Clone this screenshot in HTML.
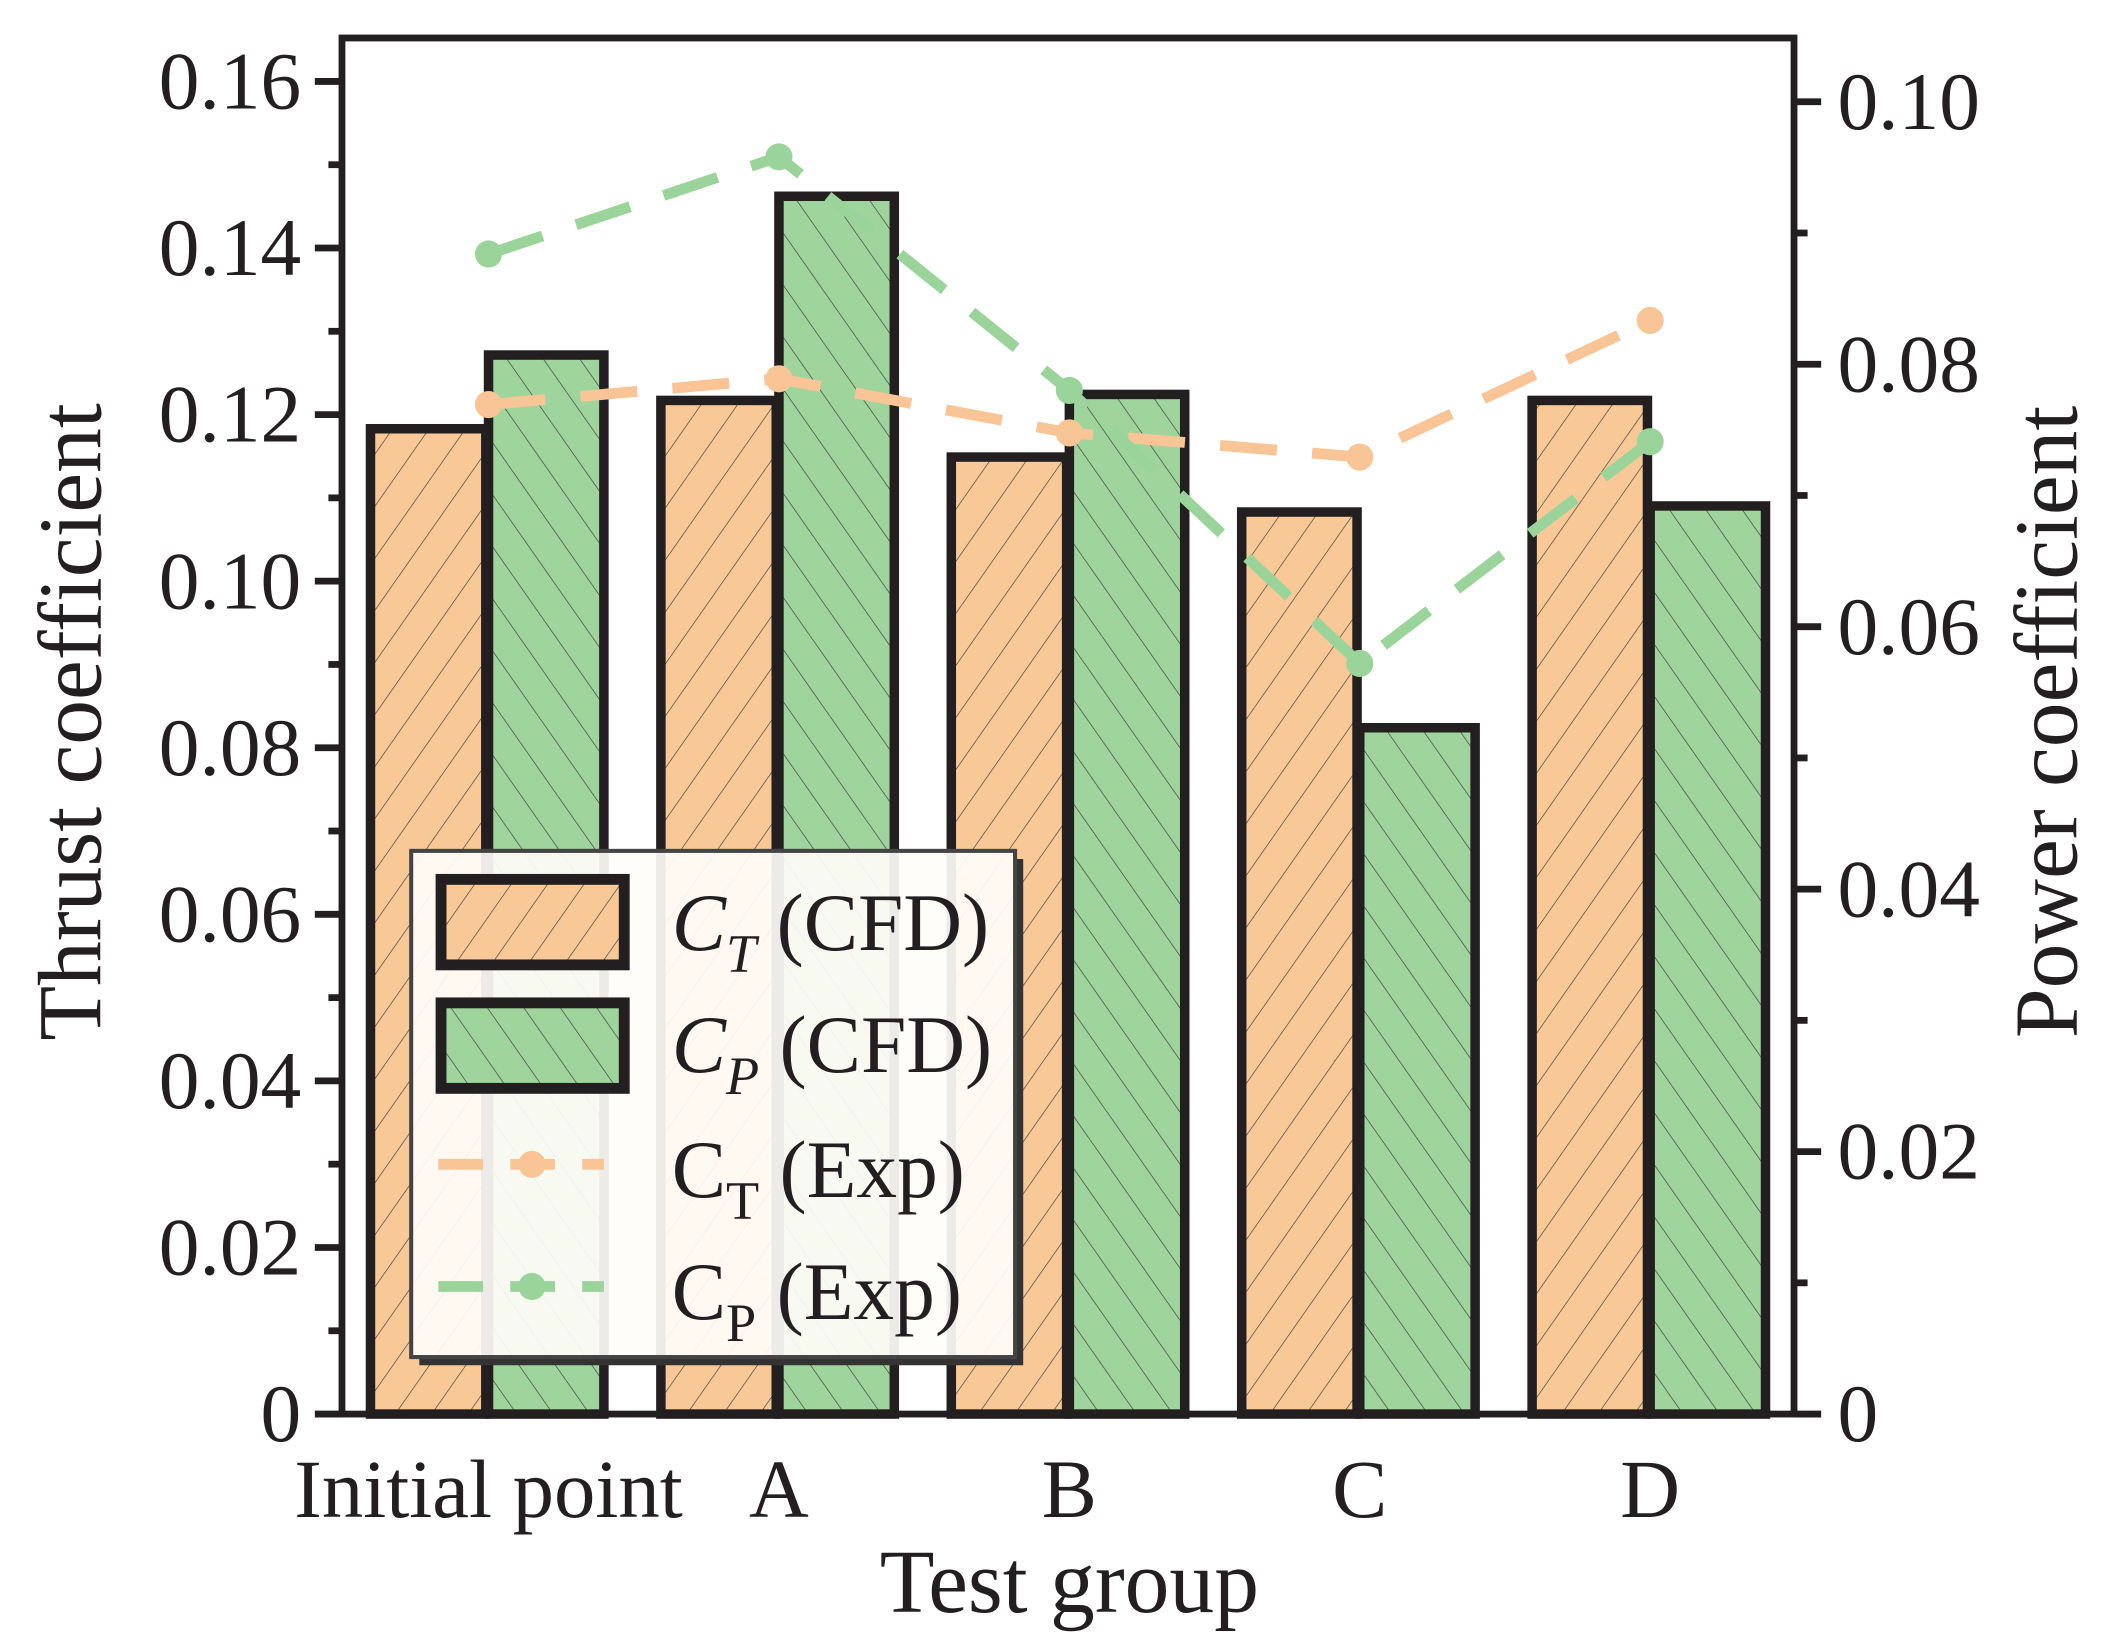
<!DOCTYPE html>
<html><head><meta charset="utf-8">
<style>html,body{margin:0;padding:0;background:#fff}svg{display:block}</style></head>
<body>
<svg id="chart" width="2117" height="1651" viewBox="0 0 1560 1216.6" preserveAspectRatio="none" xmlns="http://www.w3.org/2000/svg" font-family="'Liberation Serif', serif">
<defs>
<pattern id="hatchO" patternUnits="userSpaceOnUse" width="22" height="22" patternTransform="rotate(35)">
<rect width="22" height="22" fill="#f9c897"/><line x1="0" y1="0" x2="0" y2="22" stroke="#333" stroke-width="0.9"/></pattern>
<pattern id="hatchG" patternUnits="userSpaceOnUse" width="22" height="22" patternTransform="rotate(-35)">
<rect width="22" height="22" fill="#9fd49c"/><line x1="0" y1="0" x2="0" y2="22" stroke="#333" stroke-width="0.9"/></pattern>
</defs>
<g id="plot"></g>
</svg>
<script>
const categories = ["Initial point","A","B","C","D"];
const ctCfd = [0.1183,0.1217,0.1149,0.1083,0.1217];
const cpCfd = [0.0807,0.0928,0.0777,0.0523,0.0692];
const ctExp = [0.1212,0.1243,0.1178,0.1149,0.1313];
const cpExp = [0.0884,0.0958,0.0780,0.0572,0.0741];
const leftTicks = ["0","0.02","0.04","0.06","0.08","0.10","0.12","0.14","0.16"];
const rightTicks = ["0","0.02","0.04","0.06","0.08","0.10"];

const NS="http://www.w3.org/2000/svg";
const g=document.getElementById('plot');
const L=252,R=1322,T=28,B=1042;
function yL(v){return B-v/0.16*(B-60);}
function yR(v){return B-v/0.10*(B-75);}
function xC(i){return 360+i*214;}
function mk(tag,a,parent){const e=document.createElementNS(NS,tag);for(const k in a)e.setAttribute(k,a[k]);(parent||g).appendChild(e);return e;}

for(let i=0;i<categories.length;i++){
  const c=xC(i);
  const b1=mk('rect',{x:c-87,y:yL(ctCfd[i]),width:85,height:B-yL(ctCfd[i]),fill:'url(#hatchO)',stroke:'#231f20','stroke-width':7});
  
  
  const b2=mk('rect',{x:c,y:yR(cpCfd[i]),width:85,height:B-yR(cpCfd[i]),fill:'url(#hatchG)',stroke:'#231f20','stroke-width':7});
  
  
}
function series(vals,fy,color,name){
  const pts=vals.map((v,i)=>xC(i)+','+fy(v)).join(' ');
  const pl=mk('polyline',{points:pts,fill:'none',stroke:color,'stroke-width':8,'stroke-dasharray':'42 26'});
  
  
  vals.forEach((v,i)=>{
    const c=mk('circle',{cx:xC(i),cy:fy(v),r:10,fill:color});
    
    
  });
}
series(ctExp,yL,'#f9c597','ct-exp');
series(cpExp,yR,'#9bd49b','cp-exp');

const fr=mk('rect',{x:L,y:T,width:R-L,height:B-T,fill:'none',stroke:'#231f20','stroke-width':5});


leftTicks.forEach((t,i)=>{
  const v=i*0.02,y=yL(v);
  mk('line',{x1:L-20,x2:L,y1:y,y2:y,stroke:'#231f20','stroke-width':5});
  if(i<leftTicks.length-1){const ym=yL(v+0.01);mk('line',{x1:L-10,x2:L,y1:ym,y2:ym,stroke:'#231f20','stroke-width':5});}
  const tx=mk('text',{x:L-30,y:y+20,'text-anchor':'end','font-size':60,fill:'#231f20'});
  tx.textContent=t;
  
  
});
rightTicks.forEach((t,i)=>{
  const v=i*0.02,y=yR(v);
  mk('line',{x1:R,x2:R+20,y1:y,y2:y,stroke:'#231f20','stroke-width':5});
  if(i<rightTicks.length-1){const ym=yR(v+0.01);mk('line',{x1:R,x2:R+10,y1:ym,y2:ym,stroke:'#231f20','stroke-width':5});}
  const tx=mk('text',{x:R+32,y:y+20,'font-size':60,fill:'#231f20'});
  tx.textContent=t;
  
  
});
categories.forEach((c,i)=>{
  const tx=mk('text',{x:xC(i),y:1118,'text-anchor':'middle','font-size':61,fill:'#231f20'});
  tx.textContent=c;
  
  
});
</script>
<svg style="position:absolute;left:0;top:0" width="2117" height="1651" viewBox="0 0 1560 1216.6" preserveAspectRatio="none" xmlns="http://www.w3.org/2000/svg" font-family="'Liberation Serif', serif" fill="#231f20">
<text x="788" y="1188" text-anchor="middle" font-size="66">Test group</text>
<text transform="translate(74,532) rotate(-90)" text-anchor="middle" font-size="66">Thrust coefficient</text>
<text transform="translate(1530,532) rotate(-90)" text-anchor="middle" font-size="66">Power coefficient</text>
<g>
<path d="M748 633 H754 V1006 H309 V1000 H748 Z" fill="#333"/>
<rect x="303" y="627" width="445" height="373" fill="#fffdfa" fill-opacity="0.92" stroke="#444" stroke-width="3"/>
<rect x="325" y="648" width="135" height="63" fill="url(#hatchO)" stroke="#231f20" stroke-width="8"/>
<rect x="325" y="739" width="135" height="63" fill="url(#hatchG)" stroke="#231f20" stroke-width="8"/>
<g><line x1="323" x2="445" y1="858" y2="858" stroke="#f9c597" stroke-width="8" stroke-dasharray="33 20"/><circle cx="392" cy="858" r="10" fill="#f9c597"/></g>
<g><line x1="323" x2="445" y1="948" y2="948" stroke="#9bd49b" stroke-width="8" stroke-dasharray="33 20"/><circle cx="392" cy="948" r="10" fill="#9bd49b"/></g>
<text x="495" y="700" font-size="60"><tspan font-style="italic">C</tspan><tspan font-style="italic" font-size="40" dy="16">T</tspan><tspan dy="-16"> (CFD)</tspan></text>
<text x="495" y="790" font-size="60"><tspan font-style="italic">C</tspan><tspan font-style="italic" font-size="40" dy="16">P</tspan><tspan dy="-16">  (CFD)</tspan></text>
<text x="495" y="882" font-size="60">C<tspan font-size="40" dy="16">T</tspan><tspan dy="-16"> (Exp)</tspan></text>
<text x="495" y="972" font-size="60">C<tspan font-size="40" dy="16">P</tspan><tspan dy="-16"> (Exp)</tspan></text>
</g>
</svg>
</body></html>
